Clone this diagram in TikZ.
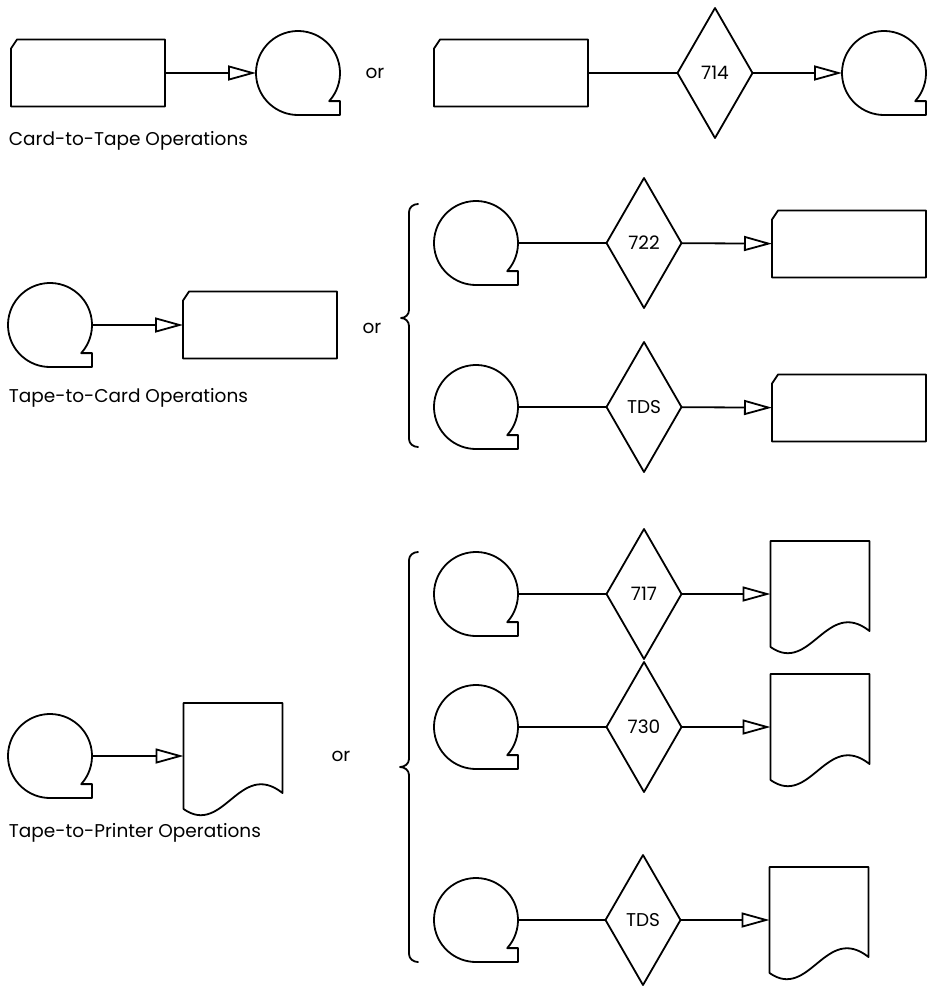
\documentclass[tikz,border=0pt]{standalone}
\usepackage{fontspec}
\setmainfont{Poppins}
\usepackage{tikz}
\usetikzlibrary{arrows.meta}
\usetikzlibrary{shapes.geometric}
\tikzset{
  cardnode/.style={rectangle,minimum width=154,minimum height=67,inner sep=0pt,outer sep=0pt},
  converter/.style={diamond,draw,minimum width=75,minimum height=130,inner sep=0pt,outer sep=0pt},
  reelnode/.style={circle,minimum size=84,inner sep=0pt,outer sep=0pt},
  sheetnode/.style={rectangle,minimum width=99,minimum height=106,inner sep=0pt,outer sep=0pt},
  flow/.style={-{Triangle[open,length=28pt,width=15pt]}},
  caption/.style={anchor=base west,inner sep=0pt}
}
\newcommand{\punchcard}[2]{%
  \node[cardnode] (#1) at (#2) {};
  \draw (#1.south west) -- ([yshift=-9]#1.north west) -- ([xshift=6]#1.north west) -- (#1.north east) -- (#1.south east) -- cycle;}
\newcommand{\tapereel}[2]{%
  \node[reelnode] (#1) at (#2) {};
  \draw (#1.-42) arc[start angle=-42,end angle=270,radius=42] -- ++(42,0) |- (#1.-42);}
\newcommand{\printsheet}[2]{%
  \node[sheetnode] (#1) at (#2) {};
  \draw (#1.south west) -- (#1.north west) -- (#1.north east) -- ([yshift=16]#1.south east) .. controls +(-43,34) and +(40,-28) .. (#1.south west);}

\begin{document}
\begin{tikzpicture}[line cap=round,line join=round,x=1pt,y=1pt,line width=1.8pt,every node/.style={font=\fontsize{18.5}{22}\selectfont}]
            \useasboundingbox (0,0) rectangle (927,-988);
            \punchcard{c1}{88,-73}
            \tapereel{t1}{298,-73}
            \draw[flow] (c1) -- (t1);
            \node (or1) at (375,-73) {or};
            \node[caption] (l1) at (8,-145) {Card-to-Tape Operations};
            \punchcard{c2}{511,-73}
            \node[converter] (d1) at (715,-73) {714};
            \tapereel{t2}{884,-73}
            \draw (c2) -- (d1);
            \draw[flow] (d1) -- (t2);
            \tapereel{t3}{50,-325}
            \punchcard{c3}{260,-325}
            \draw[flow] (t3) -- (c3);
            \node (or2) at (372,-328) {or};
            \node[caption] (l2) at (8,-402) {Tape-to-Card Operations};
            \draw (418,-204) to[out=180,in=90] (409,-212) -- (409,-310) to[out=-90,in=0] (401,-318) to[out=0,in=90] (409,-326) -- (409,-439) to[out=-90,in=180] (418,-447);
            \tapereel{t4}{476,-243}
            \node[converter] (d2) at (644,-243) {722};
            \punchcard{c4}{849,-244}
            \draw (t4) -- (d2);
            \draw[flow] (d2) -- (c4);
            \tapereel{t5}{476,-407}
            \node[converter] (d3) at (644,-407) {TDS};
            \punchcard{c5}{849,-408}
            \draw (t5) -- (d3);
            \draw[flow] (d3) -- (c5);
            \tapereel{t6}{50,-756}
            \printsheet{p1}{233,-756}
            \draw[flow] (t6) -- (p1);
            \node (or3) at (341,-756) {or};
            \node[caption] (l3) at (8,-837) {Tape-to-Printer Operations};
            \draw (418,-552) to[out=180,in=90] (409,-560) -- (409,-759) to[out=-90,in=0] (400,-767) to[out=0,in=90] (409,-775) -- (409,-954) to[out=-90,in=180] (418,-962);
            \tapereel{t7}{476,-594}
            \node[converter] (d4) at (644,-594) {717};
            \printsheet{p2}{820,-594}
            \draw (t7) -- (d4);
            \draw[flow] (d4) -- (p2);
            \tapereel{t8}{476,-727}
            \node[converter] (d5) at (644,-727) {730};
            \printsheet{p3}{820,-727}
            \draw (t8) -- (d5);
            \draw[flow] (d5) -- (p3);
            \tapereel{t9}{476,-920}
            \node[converter] (d6) at (643,-920) {TDS};
            \printsheet{p4}{819,-920}
            \draw (t9) -- (d6);
            \draw[flow] (d6) -- (p4);
\end{tikzpicture}
\end{document}
